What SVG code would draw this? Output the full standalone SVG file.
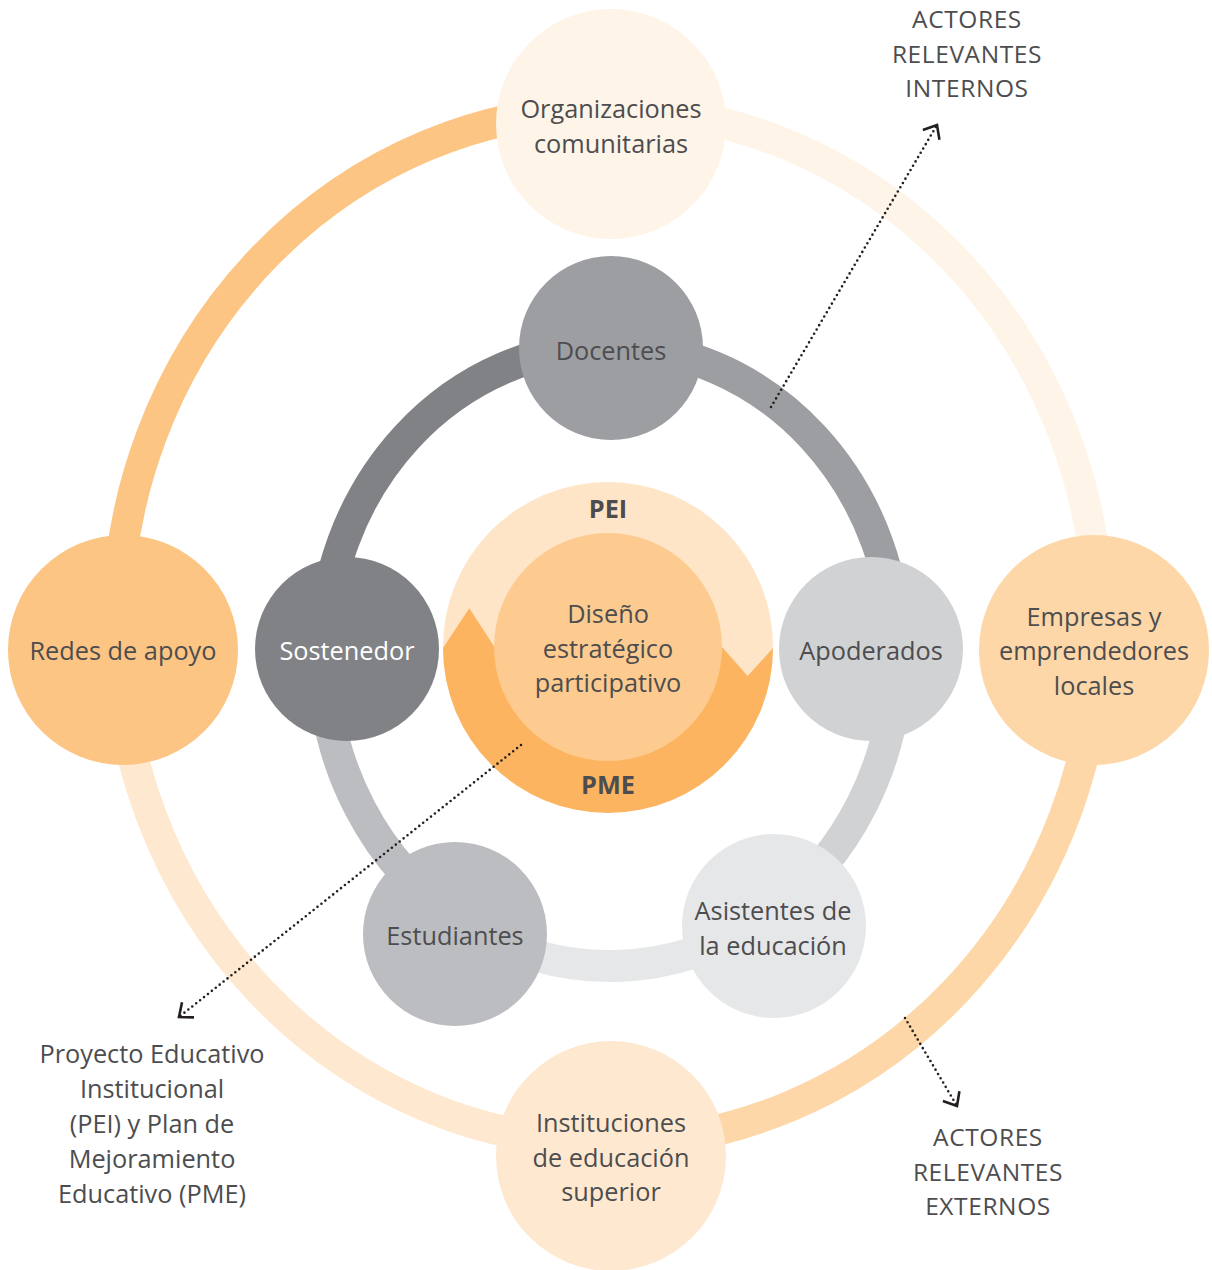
<svg xmlns="http://www.w3.org/2000/svg" width="1212" height="1270" viewBox="0 0 1212 1270">
  <defs>
    <style>
      .lbl { font-family: "Open Sans", "Noto Sans", sans-serif; font-size: 25.3px; font-weight: 400; fill: #4D4D4F; text-anchor: middle; }
      .caps { font-family: "Open Sans", "Noto Sans", sans-serif; font-size: 24.5px; font-weight: 400; letter-spacing: 0.6px; fill: #4D4D4F; text-anchor: middle; }
      .bold { font-weight: 700; }
      .white { fill: #FFFFFF; }
      .ring-o { fill: none; stroke-width: 31; }
      .ring-i { fill: none; stroke-width: 32; }
      .dots { fill: none; stroke: #231F20; stroke-width: 2.6; stroke-linecap: round; stroke-dasharray: 0 5; marker-end: url(#chev); }
    </style>
    <marker id="chev" markerUnits="userSpaceOnUse" markerWidth="30" markerHeight="30" viewBox="-15 -15 30 30" refX="0" refY="0" orient="auto">
      <path d="M -11.5 -9.6 L 0 0 L -11.5 9.6" fill="none" stroke="#231F20" stroke-width="2.6" stroke-linecap="butt" stroke-linejoin="miter"/>
    </marker>
  </defs>

  <g id="connectors">
    <!-- outer ring (ellipse c=608,626 rx=491 ry=517) -->
    <path class="ring-o" stroke="#FDC583" d="M 117 626 A 491 517 0 0 1 608 109"/>
    <path class="ring-o" stroke="#FEF4E8" d="M 608 109 A 491 517 0 0 1 1099 626"/>
    <path class="ring-o" stroke="#FED7A8" d="M 1099 626 A 491 517 0 0 1 608 1143"/>
    <path class="ring-o" stroke="#FEE9D0" d="M 608 1143 A 491 517 0 0 1 117 626"/>
    <!-- inner ring (ellipse c=610,656 rx=287 ry=310) -->
    <path class="ring-i" stroke="#818286" d="M 323 656 A 287 310 0 0 1 610 346"/>
    <path class="ring-i" stroke="#9D9EA2" d="M 610 346 A 287 310 0 0 1 897 656"/>
    <path class="ring-i" stroke="#D1D2D4" d="M 897 656 A 287 310 0 0 1 767.6 915.1"/>
    <path class="ring-i" stroke="#E6E7E8" d="M 767.6 915.1 A 287 310 0 0 1 462.2 921.7"/>
    <path class="ring-i" stroke="#BCBDC1" d="M 462.2 921.7 A 287 310 0 0 1 323 656"/>
  </g>

  <g id="node-organizaciones">
    <circle cx="611" cy="124" r="115" fill="#FEF4E8"/>
    <text class="lbl"><tspan x="611" y="118">Organizaciones</tspan><tspan x="611" y="153">comunitarias</tspan></text>
  </g>
  <g id="node-redes">
    <circle cx="123" cy="650" r="115" fill="#FDC583"/>
    <text class="lbl" x="123" y="660">Redes de apoyo</text>
  </g>
  <g id="node-empresas">
    <circle cx="1094" cy="650" r="115" fill="#FED7A8"/>
    <text class="lbl"><tspan x="1094" y="626">Empresas y</tspan><tspan x="1094" y="660">emprendedores</tspan><tspan x="1094" y="695">locales</tspan></text>
  </g>
  <g id="node-instituciones">
    <circle cx="611" cy="1156" r="115" fill="#FEE9D0"/>
    <text class="lbl"><tspan x="611" y="1132">Instituciones</tspan><tspan x="611" y="1167">de educación</tspan><tspan x="611" y="1201">superior</tspan></text>
  </g>

  <g id="node-docentes">
    <circle cx="611" cy="348" r="92" fill="#9D9EA2"/>
    <text class="lbl" x="611" y="360">Docentes</text>
  </g>
  <g id="node-sostenedor">
    <circle cx="347" cy="649" r="92" fill="#818286"/>
    <text class="lbl white" x="347" y="660">Sostenedor</text>
  </g>
  <g id="node-apoderados">
    <circle cx="871" cy="649" r="92" fill="#D1D2D4"/>
    <text class="lbl" x="871" y="660">Apoderados</text>
  </g>
  <g id="node-estudiantes">
    <circle cx="455" cy="934" r="92" fill="#BCBDC1"/>
    <text class="lbl" x="455" y="945">Estudiantes</text>
  </g>
  <g id="node-asistentes">
    <circle cx="774" cy="926" r="92" fill="#E6E7E8"/>
    <text class="lbl"><tspan x="773" y="920">Asistentes de</tspan><tspan x="773" y="955">la educación</tspan></text>
  </g>

  <g id="node-centro">
    <circle cx="608" cy="647" r="165" fill="#FEE5C8"/>
    <path d="M 443 648 L 469.3 608.3 L 494.5 647 A 114 114 0 0 0 722 647 L 747.7 676 L 773 648 A 165 165 0 0 1 443 648 Z" fill="#FDB460"/>
    <circle cx="608" cy="647" r="114" fill="#FDCB8F"/>
    <text class="lbl bold" x="608" y="518">PEI</text>
    <text class="lbl bold" x="608" y="794">PME</text>
    <text class="lbl"><tspan x="608" y="623">Diseño</tspan><tspan x="608" y="658">estratégico</tspan><tspan x="608" y="692">participativo</tspan></text>
  </g>

  <g id="callouts">
    <path class="dots" d="M 771 407 L 937 125"/>
    <path class="dots" d="M 521 745 L 179 1017"/>
    <path class="dots" d="M 905 1018 L 957 1106"/>
  </g>

  <g id="label-internos">
    <text class="caps"><tspan x="967" y="28">ACTORES</tspan><tspan x="967" y="63">RELEVANTES</tspan><tspan x="967" y="97">INTERNOS</tspan></text>
  </g>
  <g id="label-externos">
    <text class="caps"><tspan x="988" y="1146">ACTORES</tspan><tspan x="988" y="1181">RELEVANTES</tspan><tspan x="988" y="1215">EXTERNOS</tspan></text>
  </g>
  <g id="label-pei-pme">
    <text class="lbl"><tspan x="152" y="1063">Proyecto Educativo</tspan><tspan x="152" y="1098">Institucional</tspan><tspan x="152" y="1133">(PEI) y Plan de</tspan><tspan x="152" y="1168">Mejoramiento</tspan><tspan x="152" y="1203">Educativo (PME)</tspan></text>
  </g>
</svg>
